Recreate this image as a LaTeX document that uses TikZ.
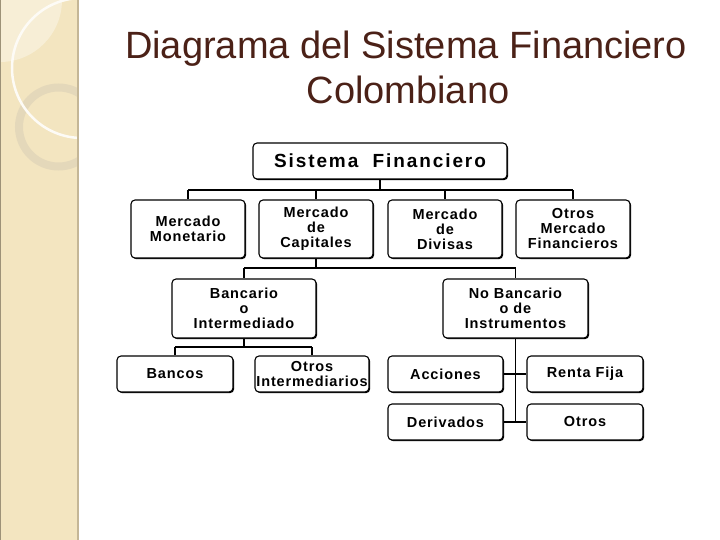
\documentclass[tikz,border=0pt]{standalone}
\usepackage{fontspec}
\setmainfont{Liberation Sans}
\newfontfamily\boxfont[LetterSpace=6]{Liberation Sans}
\newfontfamily\headfont[LetterSpace=10]{Liberation Sans}
\usetikzlibrary{shadows}
\definecolor{strip}{RGB}{243,229,192}
\definecolor{stripedge}{RGB}{196,182,150}
\definecolor{stripLight}{RGB}{247,238,214}
\definecolor{ringc}{RGB}{228,216,186}
\definecolor{titlec}{RGB}{75,33,23}
\tikzset{
  box/.style={draw, line width=1.1pt, rounded corners=4pt, fill=white,
    drop shadow={shadow xshift=1.1pt, shadow yshift=-1.1pt, fill=black, opacity=1},
    align=center, inner sep=0pt, font=\boxfont\bfseries\fontsize{14.5}{15}\selectfont},
  conn/.style={line width=1.1pt},
  bus/.style={line width=1.6pt},
  titletext/.style={text=titlec, font=\fontsize{38}{45}\selectfont, inner sep=0pt, anchor=base}
}
\begin{document}
\begin{tikzpicture}[x=1pt,y=-1pt]
\useasboundingbox (0,0) rectangle (720,540);
% left decorative strip
\fill[strip] (0,0) rectangle (78,540);
\begin{scope}
  \clip (0,0) rectangle (77,540);
  \fill[stripLight] (0,0) circle (62);
  \draw[ringc, line width=8pt] (58.5,127) circle (39.5);
  \draw[white!85!strip, line width=2.5pt] (82,68) circle (70);
\end{scope}
\fill[stripedge] (76.5,0) rectangle (79,540);
\fill[stripedge!80!black] (0,0) rectangle (0.8,540);

% title
\node[titletext] (t1) at (406,59) {Diagrama del Sistema Financiero};
\node[titletext] (t2) at (408,104) {Colombiano};

% boxes
\node[box, minimum width=254pt, minimum height=36pt, font=\headfont\bfseries\fontsize{19}{22}\selectfont] (sf) at (380,161) {Sistema\ \ Financiero};
\node[box, minimum width=114pt, minimum height=58pt] (mm) at (188,229) {Mercado\\Monetario};
\node[box, minimum width=114pt, minimum height=58pt] (mc) at (316,229) {Mercado\\de\\Capitales};
\node[box, minimum width=114pt, minimum height=58pt] (md) at (445,229) {Mercado\\de\\Divisas};
\node[box, minimum width=114pt, minimum height=58pt] (om) at (573,229) {Otros\\Mercado\\Financieros};

\node[box, minimum width=144pt, minimum height=59pt] (ban) at (244,308.5) {Bancario\\o\\Intermediado};
\node[box, minimum width=145pt, minimum height=59pt] (nob) at (515.5,308.5) {No Bancario\\o de\\Instrumentos};

\node[box, minimum width=116pt, minimum height=36pt] (bancos) at (175,374) {Bancos};
\node[box, minimum width=114pt, minimum height=36pt] (oi) at (312,374) {Otros\\Intermediarios};
\node[box, minimum width=115pt, minimum height=36pt] (acc) at (445.5,374) {Acciones};
\node[box, minimum width=116pt, minimum height=36pt] (rf) at (585,374) {Renta Fija};
\node[box, minimum width=115pt, minimum height=36pt] (der) at (445.5,422) {Derivados};
\node[box, minimum width=116pt, minimum height=36pt] (otr) at (585,422) {Otros};

% connectors level 1
\coordinate (j1) at (380,190);
\draw[conn] (sf.south) -- (j1);
\draw[bus] (mm.north |- j1) -- (om.north |- j1);
\draw[conn] (mm.north |- j1) -- (mm.north);
\draw[conn] (mc.north |- j1) -- (mc.north);
\draw[conn] (md.north |- j1) -- (md.north);
\draw[bus] (om.north |- j1) -- (om.north);

% connectors level 2
\coordinate (j2) at (316,268);
\draw[conn] (mc.south) -- (j2);
\draw[bus] (ban.north |- j2) -- (nob.north |- j2);
\draw[conn] (ban.north |- j2) -- (ban.north);
\draw[conn] (nob.north |- j2) -- (nob.north);

% Bancario branch
\coordinate (j3) at (244,347);
\draw[conn] (ban.south) -- (j3);
\draw[bus] (bancos.north |- j3) -- (oi.north |- j3);
\draw[conn] (bancos.north |- j3) -- (bancos.north);
\draw[bus] (oi.north |- j3) -- (oi.north);

% No Bancario branch
\coordinate (j4) at (515.5,422);
\draw[bus] (nob.south) -- (j4);
\draw[conn] (acc.east) -- (rf.west);
\draw[conn] (der.east) -- (otr.west);
\end{tikzpicture}
\end{document}
